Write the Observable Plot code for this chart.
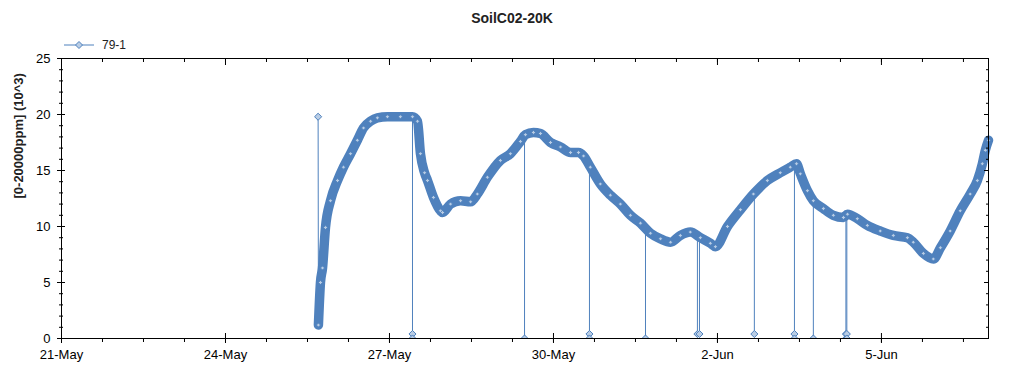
<!DOCTYPE html>
<html><head><meta charset="utf-8">
<script src="https://cdn.jsdelivr.net/npm/d3@7"></script>
<script src="https://cdn.jsdelivr.net/npm/@observablehq/plot@0.6"></script>
<style>
body{margin:0;background:#fff;font-family:"Liberation Sans",Arial,sans-serif;}
#wrap{position:relative;width:1024px;height:375px;overflow:hidden;}
#title{position:absolute;left:0;width:1024px;top:10px;text-align:center;font-weight:bold;font-size:14px;line-height:16px;color:#222;}
#legend{position:absolute;left:62px;top:37px;height:16px;display:flex;align-items:center;font-size:12px;color:#222;}
#legend span{margin-left:6px;}
</style></head><body>
<div id="wrap"><div id="chart"></div><div id="title"></div><div id="legend"></div></div>
<script>
const chartTitle = "SoilC02-20K";
const seriesName = "79-1";
const yLabel = "[0-20000ppm] (10^3)";

const times = [
"2021-05-25 16:48","2021-05-25 17:42","2021-05-25 18:36","2021-05-25 19:54","2021-05-25 22:06",
"2021-05-26 01:12","2021-05-26 03:48","2021-05-26 06:54","2021-05-26 09:54","2021-05-26 12:36",
"2021-05-26 15:42","2021-05-26 18:42","2021-05-26 23:06","2021-05-27 04:48","2021-05-27 10:06",
"2021-05-27 12:18","2021-05-27 13:36","2021-05-27 15:24","2021-05-27 16:42","2021-05-27 19:18",
"2021-05-27 22:24","2021-05-27 23:18","2021-05-28 02:48","2021-05-28 07:12","2021-05-28 11:36",
"2021-05-28 14:36","2021-05-28 19:00","2021-05-29 00:42","2021-05-29 05:06","2021-05-29 09:30",
"2021-05-29 11:42","2021-05-29 15:12","2021-05-29 18:18","2021-05-29 22:42","2021-05-30 03:06",
"2021-05-30 07:30","2021-05-30 11:00","2021-05-30 13:12","2021-05-30 16:12","2021-05-30 20:36",
"2021-05-31 01:00","2021-05-31 05:24","2021-05-31 09:48","2021-05-31 14:12","2021-05-31 18:36",
"2021-05-31 23:00","2021-06-01 03:24","2021-06-01 07:42","2021-06-01 12:06","2021-06-01 16:30",
"2021-06-01 20:54","2021-06-01 23:06","2021-06-02 04:24","2021-06-02 10:06","2021-06-02 15:48",
"2021-06-02 21:54","2021-06-03 03:36","2021-06-03 08:00","2021-06-03 10:42","2021-06-03 12:24",
"2021-06-03 15:30","2021-06-03 18:06","2021-06-03 22:30","2021-06-04 02:54","2021-06-04 07:18",
"2021-06-04 09:06","2021-06-04 13:24","2021-06-04 17:48","2021-06-04 23:30","2021-06-05 05:12",
"2021-06-05 11:24","2021-06-05 14:00","2021-06-05 18:24","2021-06-05 22:48","2021-06-06 01:54",
"2021-06-06 06:12","2021-06-06 10:36","2021-06-06 15:00","2021-06-06 18:06","2021-06-06 20:18",
"2021-06-06 21:36","2021-06-06 23:00"
];
const values = [
1.2,5.0,6.3,9.9,12.3,
14.1,15.3,16.5,17.7,18.8,
19.4,19.7,19.8,19.8,19.8,
19.4,16.5,14.8,14.1,12.6,
11.4,11.25,12.0,12.3,12.2,
12.9,14.4,15.9,16.5,17.6,
18.2,18.4,18.3,17.5,17.1,
16.6,16.6,16.3,15.3,13.8,
12.8,12.0,11.0,10.3,9.4,
8.9,8.6,9.2,9.5,9.0,
8.5,8.2,10.0,11.5,12.9,
14.1,14.8,15.3,15.6,14.7,
13.2,12.3,11.6,11.0,10.8,
11.1,10.7,10.1,9.6,9.2,
9.0,8.6,7.6,7.1,8.1,
9.6,11.4,12.9,14.1,15.6,
16.8,17.7
];

const spikeTime = "2021-05-25 16:40";
const spikeValue = 19.8;

const dropTimes = ["2021-05-27 10:06","2021-05-29 11:18","2021-05-30 15:48","2021-05-31 16:24","2021-06-01 15:12","2021-06-01 16:06","2021-06-02 16:12","2021-06-03 09:48","2021-06-03 18:06","2021-06-04 08:24","2021-06-04 08:48"];
const dropTops  = [19.8,18.1,15.4,10.0,9.2,9.2,12.9,15.4,12.3,11.0,11.0];
const dropLows  = [[0.4,0],[0],[0.4,0],[0],[0.4],[0.4],[0.4],[0.4,0],[0],[0.4,0],[0.4,0]];

const xStart = "2021-05-21 00:00";
const xEnd = "2021-06-06 23:00";
const xMajorTicks = ["2021-05-21 00:00","2021-05-24 00:00","2021-05-27 00:00","2021-05-30 00:00","2021-06-02 00:00","2021-06-05 00:00"];
const yMajorTicks = [0,5,10,15,20,25];
const yMinorTicks = d3.range(0,26);

const parse = d3.utcParse("%Y-%m-%d %H:%M");
const fmt = d3.utcFormat("%-d-%b");
const x0 = parse(xStart), x1 = parse(xEnd);
const xMajor = xMajorTicks.map(parse);
const xMinor = d3.range(0, 23).map(k => new Date(+x0 + k*18*3600e3)).filter(d => d <= x1);

const main = times.map((t,i)=>({t:parse(t), v:values[i]}));
const drops = dropTimes.map((t,i)=>({t:parse(t), top:dropTops[i], low:d3.min(dropLows[i])}));
const dropDots = dropTimes.flatMap((t,i)=>dropLows[i].map(v=>({t:parse(t), v})));
const spike = [{t:parse(spikeTime), v:spikeValue}, main[0]];

const blue = "#4f81bd", light = "#b9cde5";
const blank = () => "";

const chart = Plot.plot({
  width:1024, height:375,
  marginLeft:61, marginRight:36, marginTop:58, marginBottom:37,
  style:{fontFamily:"'Liberation Sans', Arial, sans-serif", fontSize:"13px", color:"black", background:"white", overflow:"visible"},
  x:{type:"utc", domain:[x0, x1]},
  y:{domain:[0,25]},
  marks:[
    Plot.ruleX(drops,{x:"t", y1:"low", y2:"top", stroke:blue, strokeWidth:1}),
    Plot.line(spike,{x:"t", y:"v", stroke:blue, strokeWidth:1}),
    Plot.line(main,{x:"t", y:"v", stroke:blue, strokeWidth:9.5, strokeLinejoin:"round", strokeLinecap:"round", curve:"monotone-x"}),
    Plot.dot(main,{x:"t", y:"v", symbol:"diamond2", r:1.8, fill:light, stroke:blue, strokeWidth:0.8}),
    Plot.dot(dropDots,{x:"t", y:"v", symbol:"diamond2", r:3.2, fill:light, stroke:blue, strokeWidth:1, clip:true}),
    Plot.dot(spike.slice(0,1),{x:"t", y:"v", symbol:"diamond2", r:3.2, fill:light, stroke:blue, strokeWidth:1}),
    Plot.frame({stroke:"black"}),
    Plot.axisX({ticks:xMajor, tickFormat:fmt, tickSize:0, tickPadding:11, label:null}),
    Plot.axisX({ticks:xMajor, tickFormat:blank, tickSize:10, dy:-5, label:null}),
    Plot.axisX({ticks:xMinor, tickFormat:blank, tickSize:4, label:null}),
    Plot.axisX({anchor:"top", ticks:xMajor, tickFormat:blank, tickSize:6, dy:6, label:null}),
    Plot.axisX({anchor:"top", ticks:xMinor, tickFormat:blank, tickSize:3, dy:3, label:null}),
    Plot.axisY({ticks:yMajorTicks, tickSize:0, tickPadding:11, label:null}),
    Plot.axisY({ticks:yMajorTicks, tickFormat:blank, tickSize:8, dx:4, label:null}),
    Plot.axisY({ticks:yMinorTicks, tickFormat:blank, tickSize:4, dx:2, label:null}),
    Plot.axisY({anchor:"right", ticks:yMajorTicks, tickFormat:blank, tickSize:5, dx:-5, label:null}),
    Plot.axisY({anchor:"right", ticks:yMinorTicks, tickFormat:blank, tickSize:3, dx:-3, label:null}),
    Plot.text([yLabel],{text:d=>d, frameAnchor:"left", dx:-43, rotate:-90, fontWeight:"bold", fontSize:13, fill:"#222"})
  ]
});
document.getElementById("chart").appendChild(chart);
document.getElementById("title").textContent = chartTitle;
document.getElementById("legend").innerHTML =
  `<svg width="34" height="12"><line x1="2" y1="6" x2="32" y2="6" stroke="${blue}" stroke-width="1"/>` +
  `<path d="M17,2.5L20.5,6L17,9.5L13.5,6Z" fill="${light}" stroke="${blue}"/></svg><span>${seriesName}</span>`;
</script>
</body></html>
